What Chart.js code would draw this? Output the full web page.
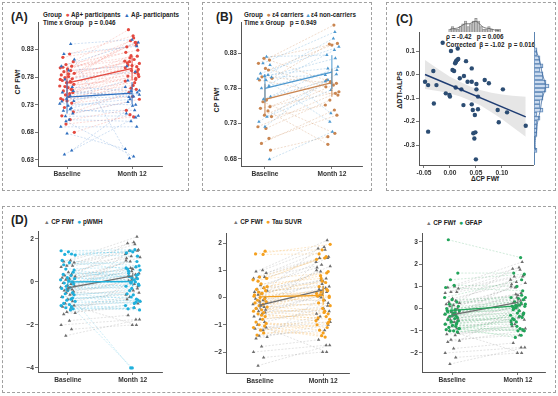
<!DOCTYPE html>
<html>
<head>
<meta charset="utf-8">
<script src="https://cdn.jsdelivr.net/npm/chart.js@4"></script>
<style>
body{margin:0;width:558px;height:396px;background:#fff;position:relative;overflow:hidden;font-family:"Liberation Sans",Arial,sans-serif;font-weight:bold;color:#222}
.box{position:absolute;border:1px dashed #a0a0a0;box-sizing:border-box}
canvas{position:absolute}
.t{position:absolute;white-space:pre;font-size:6.3px;line-height:1}
.lab{position:absolute;font-size:12px;line-height:1}
.yt{position:absolute;font-size:7px;line-height:1;white-space:nowrap;transform:translate(-50%,-50%) rotate(-90deg)}
.c{font-size:6.8px}
.tr{font-size:5.6px}
</style>
</head>
<body>
<div class="box" style="left:2px;top:2px;width:187px;height:189px"></div>
<div class="box" style="left:202px;top:2px;width:170px;height:189px"></div>
<div class="box" style="left:386px;top:2px;width:170px;height:189px"></div>
<div class="box" style="left:2px;top:206px;width:554px;height:187px"></div>

<div class="lab" style="left:11px;top:11px">(A)</div>
<div class="t" style="left:43px;top:12px">Group  <span class="c" style="color:#e8534a">●</span> Aβ+ participants  <span class="tr" style="color:#2f6fbf">▲</span> Aβ- participants</div>
<div class="t" style="left:43px;top:20px">Time x Group   p = 0.046</div>
<div class="yt" style="left:17px;top:82px">CP FWf</div>

<div class="lab" style="left:216px;top:11px">(B)</div>
<div class="t" style="left:244px;top:12px">Group  <span class="c" style="color:#c98550">●</span> ε4 carriers <span class="tr" style="color:#4d98cf">▲</span>ε4 non-carriers</div>
<div class="t" style="left:244px;top:20px">Time x Group   p = 0.949</div>
<div class="yt" style="left:216px;top:100px">CP FWf</div>

<div class="lab" style="left:396px;top:13px">(C)</div>
<div class="t" style="left:446px;top:34px">ρ = -0.42   p = 0.006</div>
<div class="t" style="left:446px;top:42px">Corrected  β = -1.02  p = 0.016</div>
<div class="yt" style="left:399px;top:90px">ΔDTI-ALPS</div>
<div class="t" style="left:471px;top:176px;font-size:6.6px">ΔCP FWf</div>

<div class="lab" style="left:11px;top:214px">(D)</div>
<div class="t" style="left:44px;top:219px"><span class="tr" style="color:#777">▲</span> CP FWf  <span class="c" style="color:#1fb0dc">●</span> pWMH</div>
<div class="t" style="left:233px;top:219px"><span class="tr" style="color:#777">▲</span> CP FWf  <span class="c" style="color:#f5a01e">●</span> Tau SUVR</div>
<div class="t" style="left:426px;top:220px"><span class="tr" style="color:#777">▲</span> CP FWf  <span class="c" style="color:#22a45a">●</span> GFAP</div>

<script>
// ---- data ----
var timeLabels = ["Baseline", "Month 12"];

// (A) CP FWf by amyloid group
var abPosBase = [0.822,0.816,0.808,0.803,0.800,0.797,0.795,0.792,0.790,0.787,0.784,0.781,0.779,0.777,0.774,0.772,0.770,0.767,0.764,0.761,0.758,0.755,0.752,0.748,0.745,0.741,0.737,0.733,0.725,0.717,0.710,0.703,0.695,0.680,0.798,0.786,0.776,0.771,0.763,0.757,0.750,0.739];
var abPosMonth = [0.855,0.838,0.866,0.829,0.846,0.812,0.825,0.801,0.842,0.808,0.794,0.835,0.788,0.819,0.805,0.782,0.851,0.797,0.776,0.815,0.790,0.770,0.802,0.785,0.760,0.799,0.773,0.745,0.778,0.752,0.740,0.720,0.708,0.712,0.818,0.806,0.843,0.792,0.781,0.809,0.765,0.758];
var abNegBase = [0.840,0.822,0.812,0.800,0.792,0.776,0.762,0.752,0.746,0.741,0.737,0.732,0.728,0.724,0.719,0.714,0.709,0.703,0.690,0.678,0.647,0.640,0.755,0.736,0.722,0.700];
var abNegMonth = [0.848,0.836,0.633,0.843,0.800,0.790,0.755,0.748,0.774,0.745,0.762,0.730,0.740,0.752,0.720,0.735,0.710,0.700,0.690,0.650,0.728,0.707,0.744,0.756,0.714,0.636];
var abPosMean = [0.769, 0.796], abPosErr = [0.025, 0.022];
var abNegMean = [0.744, 0.751], abNegErr = [0.03, 0.02];
var aTicks = [0.63, 0.68, 0.73, 0.78, 0.83];

// (B) CP FWf by APOE e4
var e4Base = [0.8225,0.820,0.8154,0.8083,0.806,0.7964,0.7942,0.7918,0.7634,0.761,0.754,0.7517,0.748,0.742,0.740,0.7256,0.7233,0.709,0.702,0.6926];
var e4Month = [0.8437,0.7894,0.8697,0.7823,0.8413,0.7871,0.8427,0.7705,0.7918,0.7163,0.788,0.7752,0.7007,0.7847,0.7564,0.7729,0.7634,0.742,0.7493,0.7115];
var nonBase = [0.8248,0.8154,0.813,0.801,0.799,0.7974,0.7956,0.7936,0.7918,0.7833,0.78,0.7681,0.7644,0.7398,0.7327,0.7256,0.6794];
var nonMonth = [0.8272,0.860,0.7446,0.8389,0.8083,0.8508,0.7988,0.8225,0.7327,0.806,0.8342,0.7918,0.8106,0.7776,0.80,0.79,0.7185];
var e4Mean = [0.7645, 0.788], e4Err = [0.022, 0.02];
var nonMean = [0.780, 0.803], nonErr = [0.02, 0.024];
var bTicks = [0.68, 0.73, 0.78, 0.83];

// (C) change scatter
var dCpFwf = [-0.014,0.015,0.002,0.014,0.011,0.012,0.016,0.010,0.031,0.005,0.008,-0.032,-0.048,-0.042,-0.026,0.027,0.042,0.034,0.042,0.067,0.075,0.051,0.051,0.011,0.022,-0.008,-0.001,0.000,0.054,-0.031,0.026,0.042,0.044,0.054,0.048,0.102,0.092,0.110,0.094,0.146,-0.042,0.045,0.049,0.047,0.050,0.019];
var dAlps = [0.135,0.111,0.100,0.062,0.052,0.058,0.066,0.048,0.057,0.019,0.015,0.015,-0.031,-0.045,-0.045,-0.006,0.026,-0.031,-0.031,-0.023,-0.037,-0.040,-0.063,-0.055,-0.063,-0.080,-0.087,-0.094,-0.094,-0.123,-0.130,-0.127,-0.151,-0.148,-0.172,-0.063,-0.151,-0.161,-0.203,-0.218,-0.243,-0.250,-0.246,-0.272,-0.361,-0.016];
var fitX = [-0.048, 0.146], fitY = [0.0, -0.180];
var bandX = [-0.048,-0.02,0,0.02,0.04,0.06,0.08,0.10,0.12,0.146];
var bandHi = [0.062,0.019,-0.009,-0.032,-0.052,-0.067,-0.078,-0.085,-0.090,-0.095];
var bandLo = [-0.062,-0.071,-0.081,-0.094,-0.112,-0.133,-0.160,-0.189,-0.222,-0.265];
var cXTicks = [-0.05, 0, 0.05, 0.10], cYTicks = [0.1, 0, -0.1, -0.2, -0.3];
var topBins = [-0.05,-0.04,-0.03,-0.02,-0.01,0.00,0.01,0.02,0.03,0.04,0.05,0.06,0.07,0.08,0.09,0.10,0.11,0.12,0.13,0.14];
var topCounts = [1,2,1,1,2,3,4,2,3,4,5,4,2,1,1,2,1,0,1,1];
var topDens = [1.0,1.2,1.3,1.5,2.0,2.6,3.0,3.0,3.2,3.7,3.9,3.3,2.4,1.7,1.4,1.3,1.1,0.8,0.6,0.5];
var sideBins = [-0.36,-0.34,-0.32,-0.30,-0.28,-0.26,-0.24,-0.22,-0.20,-0.18,-0.16,-0.14,-0.12,-0.10,-0.08,-0.06,-0.04,-0.02,0.00,0.02,0.04,0.06,0.08,0.10,0.12,0.14];
var sideCounts = [1,0,0,0,1,1,1,1,2,1,3,2,2,3,3,4,5,4,3,3,2,3,2,2,1,1];
var sideDens = [0.5,0.4,0.4,0.5,0.7,0.9,1.0,1.2,1.5,1.8,2.1,2.3,2.5,2.8,3.2,3.6,3.8,3.6,3.2,2.8,2.5,2.3,2.0,1.6,1.1,0.7];

// (D) z-scores, CP FWf shared by the three sub-panels
var cpBase = [1.00,0.95,0.90,0.75,0.75,0.70,0.45,0.35,0.30,0.25,0.20,0.15,0.10,0.00,-0.05,-0.10,-0.15,-0.20,-0.25,-0.30,-0.35,-0.40,-0.45,-0.50,-0.60,-0.70,-0.80,-0.90,-1.00,-1.10,-1.15,-1.20,-1.40,-1.45,-1.50,-1.80,-2.00,-2.20,-2.50,-0.55];
var cpMonth = [1.85,2.10,1.45,1.50,1.20,1.75,1.10,0.60,1.45,0.95,0.40,1.80,0.70,0.50,1.15,0.30,-0.10,1.00,0.20,0.65,-0.20,0.35,0.05,-0.50,0.10,-0.30,-0.60,-0.40,-2.00,-0.70,-0.90,-0.80,-1.20,0.00,-1.00,-1.55,-1.75,-2.00,-1.75,1.30];
var pwmhBase = [1.45,1.40,1.30,1.28,1.25,1.00,0.90,0.60,0.45,0.35,0.30,0.20,0.15,0.10,0.05,0.00,-0.05,-0.10,-0.20,-0.25,-0.30,-0.40,-0.50,-0.55,-0.60,-0.70,-0.80,-0.85,-0.90,-1.00,-1.05,-1.10,-1.15,-1.20,-1.25,-1.30,0.80,0.55,-0.35,-0.75];
var pwmhMonth = [1.50,1.35,1.40,1.20,1.45,0.75,0.60,0.70,0.20,0.55,0.40,0.10,0.65,0.30,-0.05,0.35,0.00,0.50,-0.15,-0.30,0.15,-0.20,-0.60,-0.80,-0.40,-0.90,-0.55,-1.00,-4.00,-0.85,-1.25,-0.95,-4.00,-1.30,-1.10,-1.20,0.95,0.25,-0.10,-0.70];
var tauBase = [1.70,1.60,1.58,0.75,0.70,0.65,0.50,0.35,0.30,0.25,0.20,0.15,0.05,0.00,-0.05,-0.10,-0.15,-0.20,-0.25,-0.30,-0.35,-0.40,-0.45,-0.50,-0.55,-0.60,-0.70,-0.80,-0.90,-0.95,-1.00,-1.05,-1.10,-1.20,-1.30,-1.38,0.40,0.10,-0.65,0.60];
var tauMonth = [1.75,1.95,1.60,1.45,1.40,0.90,0.70,0.95,0.55,0.40,0.05,0.60,0.25,0.15,-0.10,0.30,0.10,-0.30,0.05,-0.50,0.20,-0.60,-0.20,-0.70,-0.40,-0.80,-0.85,-0.55,-1.10,-1.20,-0.90,-1.40,-1.45,-1.00,-1.30,-0.95,0.80,0.00,-0.75,1.50];
var gfapBase = [3.10,1.60,1.30,1.05,0.95,0.40,0.30,0.20,0.10,0.00,-0.05,-0.10,-0.10,-0.15,-0.20,-0.25,-0.30,-0.35,-0.40,-0.45,-0.50,-0.55,-0.60,-0.65,-0.70,-0.75,-0.80,-0.85,-0.90,-0.95,-1.00,-1.00,-1.05,-0.10,-0.20,-0.60,-0.90,0.50,-0.30,-0.70];
var gfapMonth = [2.30,1.60,1.55,1.00,0.80,0.50,0.45,0.60,0.30,0.20,0.10,0.15,0.05,0.40,-0.05,0.25,-0.20,0.10,-0.30,-0.10,-0.40,-0.50,-0.20,-0.60,-0.90,-0.70,-1.00,-0.95,-1.30,-1.00,-0.45,-1.20,-0.80,0.50,0.00,-0.35,-0.55,1.30,0.15,-0.25];
var cpMean = [-0.28, 0.28], cpErr = [0.15, 0.15];
var pwmhMean = [0.0, 0.02], pwmhErr = [0.2, 0.22];
var tauMean = [0.02, 0.08], tauErr = [0.2, 0.35];
var gfapMean = [-0.08, 0.12], gfapErr = [0.3, 0.15];

// horizontal jitter offsets (in units of the time axis)
var jit = [0.05,-0.08,0.12,-0.02,0.09,-0.13,0.01,0.07,-0.06,0.14,-0.11,0.03,-0.04,0.10,-0.09,0.06,-0.01,0.13,-0.14,0.02,0.08,-0.07,0.11,-0.03,0.04,-0.12,0.00,0.09,-0.05,0.12,-0.10,0.06,-0.02,0.14,-0.08,0.03,-0.13,0.07,-0.04,0.10];

// ---- drawing ----
Chart.defaults.font.family = '"Liberation Sans", Arial, sans-serif';
Chart.defaults.font.weight = 'bold';
Chart.defaults.animation = false;
Chart.defaults.plugins.legend.display = false;
Chart.defaults.plugins.tooltip.enabled = false;

var YW = 28, XH = 16;

function canvasAt(r) {
  var c = document.createElement('canvas');
  c.width = r[2]; c.height = r[3];
  c.style.left = r[0] + 'px'; c.style.top = r[1] + 'px';
  document.body.appendChild(c);
  return c;
}

function pad(r, a, yw, xh) {
  return {left: a[0] - r[0] - yw, top: a[1] - r[1], right: r[0] + r[2] - a[2], bottom: r[1] + r[3] - a[3] - xh};
}

function axis(min, max, ticks, fmt, size) {
  return {
    type: 'linear', min: min, max: max,
    afterBuildTicks: function (s) { s.ticks = ticks.map(function (v) { return {value: v}; }); },
    afterFit: function (s) { if (s.isHorizontal()) s.height = size; else s.width = size; },
    grid: {drawOnChartArea: false, tickLength: 3, color: '#555', lineWidth: 0.8},
    border: {color: '#555', width: 1},
    ticks: {callback: fmt, color: '#333', font: {size: 6.6}, padding: 1, autoSkip: false, maxRotation: 0}
  };
}

function timeFmt(v) { return v === 1 ? timeLabels[0] : timeLabels[1]; }
function dec2(v) { return v.toFixed(2); }
function minusFmt(v) { return v < 0 ? '\u2212' + Math.abs(v) : String(v); }

function paired(r, a, xr, yr, yticks, yfmt, groups) {
  var ds = [];
  groups.forEach(function (g) {
    var lines = [], pts = [];
    for (var i = 0; i < g.base.length; i++) {
      var xb = 1 + jit[(i + g.k) % jit.length] * g.s;
      var xm = 2 + jit[(i + g.k + 19) % jit.length] * g.s;
      lines.push({x: xb, y: g.base[i]}, {x: xm, y: g.month[i]}, {x: 1.5, y: null});
      pts.push({x: xb, y: g.base[i]}, {x: xm, y: g.month[i]});
    }
    ds.push({type: 'line', data: lines, borderColor: g.pair, borderWidth: 0.6, borderDash: [2, 1.5], pointRadius: 0, spanGaps: false, order: 4});
    ds.push({type: 'scatter', data: pts, pointStyle: g.shape, pointRadius: g.shape === 'triangle' ? 2.0 : 1.6,
      backgroundColor: g.color, borderWidth: 0, order: 2});
    ds.push({type: 'line', data: [{x: 1, y: g.mean[0]}, {x: 2, y: g.mean[1]}], borderColor: g.color, borderWidth: 1.3, pointRadius: 0, order: 1});
    ds.push({type: 'line', data: [{x: 1, y: g.mean[0] - g.err[0]}, {x: 1, y: g.mean[0] + g.err[0]}, {x: 1, y: null},
      {x: 2, y: g.mean[1] - g.err[1]}, {x: 2, y: g.mean[1] + g.err[1]}], borderColor: g.color, borderWidth: 1, pointRadius: 0, spanGaps: false, order: 1});
  });
  new Chart(canvasAt(r), {
    type: 'scatter',
    data: {datasets: ds},
    options: {responsive: false, layout: {padding: pad(r, a, YW, XH)},
      scales: {x: axis(xr[0], xr[1], [1, 2], timeFmt, XH), y: axis(yr[0], yr[1], yticks, yfmt, YW)}}
  });
}

// (A)
paired([3, 3, 185, 187], [38, 22, 162, 166], [0.554, 2.46], [0.619, 0.88], aTicks, dec2, [
  {base: abNegBase, month: abNegMonth, mean: abNegMean, err: abNegErr, color: '#2f6fbf', pair: 'rgba(80,140,210,0.45)', shape: 'triangle', k: 7, s: 0.8},
  {base: abPosBase, month: abPosMonth, mean: abPosMean, err: abPosErr, color: '#e4493f', pair: 'rgba(240,120,110,0.45)', shape: 'circle', k: 0, s: 0.8}
]);

// (B)
paired([203, 3, 168, 187], [241, 22, 362, 166], [0.642, 2.45], [0.670, 0.874], bTicks, dec2, [
  {base: nonBase, month: nonMonth, mean: nonMean, err: nonErr, color: '#4d98cf', pair: 'rgba(90,160,210,0.5)', shape: 'triangle', k: 11, s: 0.75},
  {base: e4Base, month: e4Month, mean: e4Mean, err: e4Err, color: '#c98550', pair: 'rgba(205,140,90,0.5)', shape: 'circle', k: 3, s: 0.75}
]);

// (D) three sub-panels
paired([3, 207, 185, 185], [38, 231, 162, 372], [0.54, 2.45], [-4.19, 2.37], [2, 0, -2, -4], minusFmt, [
  {base: pwmhBase, month: pwmhMonth, mean: pwmhMean, err: pwmhErr, color: '#1fb0dc', pair: 'rgba(40,180,220,0.4)', shape: 'circle', k: 5, s: 0.8},
  {base: cpBase, month: cpMonth, mean: cpMean, err: cpErr, color: '#6e6e6e', pair: 'rgba(140,140,140,0.4)', shape: 'triangle', k: 0, s: 0.8}
]);
paired([190, 207, 180, 185], [226, 233, 349, 373], [0.46, 2.41], [-2.77, 2.367], [2, 1, 0, -1, -2], minusFmt, [
  {base: tauBase, month: tauMonth, mean: tauMean, err: tauErr, color: '#f5a01e', pair: 'rgba(245,170,60,0.45)', shape: 'circle', k: 13, s: 0.8},
  {base: cpBase, month: cpMonth, mean: cpMean, err: cpErr, color: '#6e6e6e', pair: 'rgba(140,140,140,0.4)', shape: 'triangle', k: 0, s: 0.8}
]);
paired([380, 207, 175, 185], [422, 233, 545, 372], [0.545, 2.41], [-2.856, 3.405], [3, 2, 1, 0, -1, -2], minusFmt, [
  {base: gfapBase, month: gfapMonth, mean: gfapMean, err: gfapErr, color: '#22a45a', pair: 'rgba(60,170,100,0.4)', shape: 'circle', k: 21, s: 0.8},
  {base: cpBase, month: cpMonth, mean: cpMean, err: cpErr, color: '#6e6e6e', pair: 'rgba(140,140,140,0.4)', shape: 'triangle', k: 0, s: 0.8}
]);

// (C) main scatter
var cR = [387, 3, 168, 187], cA = [419, 32, 533, 165];
var cXR = [-0.0596, 0.160], cYR = [-0.385, 0.181];
function zip(xs, ys) { return xs.map(function (x, i) { return {x: x, y: ys[i]}; }); }
new Chart(canvasAt(cR), {
  type: 'scatter',
  data: {datasets: [
    {type: 'line', data: zip(bandX, bandHi), borderWidth: 0, pointRadius: 0, fill: '+1', backgroundColor: 'rgba(205,205,205,0.5)', order: 3},
    {type: 'line', data: zip(bandX, bandLo), borderWidth: 0, pointRadius: 0, fill: false, order: 3},
    {type: 'scatter', data: zip(dCpFwf, dAlps), pointRadius: 2.2, backgroundColor: '#2c4d73', borderWidth: 0, order: 2},
    {type: 'line', data: zip(fitX, fitY), borderColor: '#1f3d73', borderWidth: 1.5, pointRadius: 0, order: 1}
  ]},
  options: {responsive: false, layout: {padding: pad(cR, cA, YW, XH)},
    scales: {
      x: axis(cXR[0], cXR[1], cXTicks, dec2, XH),
      y: axis(cYR[0], cYR[1], cYTicks, function (v) { return v.toFixed(1); }, YW)
    }}
});

// (C) top marginal histogram
new Chart(canvasAt([419, 17, 114, 15]), {
  type: 'bar',
  data: {datasets: [
    {type: 'line', data: zip(topBins, topDens), borderColor: '#555', borderWidth: 0.8, pointRadius: 0, tension: 0.4, order: 1},
    {type: 'bar', data: zip(topBins, topCounts), backgroundColor: 'rgba(190,190,190,0.8)', borderColor: '#8a8a8a', borderWidth: 0.6, barPercentage: 1, categoryPercentage: 1, order: 2}
  ]},
  options: {responsive: false, layout: {padding: 0},
    scales: {
      x: {type: 'linear', min: cXR[0], max: cXR[1], ticks: {display: false}, grid: {display: false},
        border: {display: true, color: '#777', width: 0.8}, afterFit: function (s) { s.height = 0; }},
      y: {min: 0, max: 5.5, display: false}
    }}
});

// (C) right marginal histogram
new Chart(canvasAt([534, 32, 18, 133]), {
  type: 'bar',
  data: {datasets: [
    {type: 'line', data: zip(sideDens, sideBins), borderColor: '#3d6aa0', borderWidth: 0.8, pointRadius: 0, tension: 0.4, order: 1},
    {type: 'bar', data: zip(sideCounts, sideBins), backgroundColor: 'rgba(160,190,225,0.55)', borderColor: '#5b84b1', borderWidth: 0.6, barPercentage: 1, categoryPercentage: 1, order: 2}
  ]},
  options: {responsive: false, indexAxis: 'y', layout: {padding: 0},
    scales: {
      y: {type: 'linear', min: cYR[0], max: cYR[1], ticks: {display: false}, grid: {display: false},
        border: {display: true, color: '#5b84b1', width: 1}, afterFit: function (s) { s.width = 0; }},
      x: {min: 0, max: 6, display: false}
    }}
});
</script>
</body>
</html>
